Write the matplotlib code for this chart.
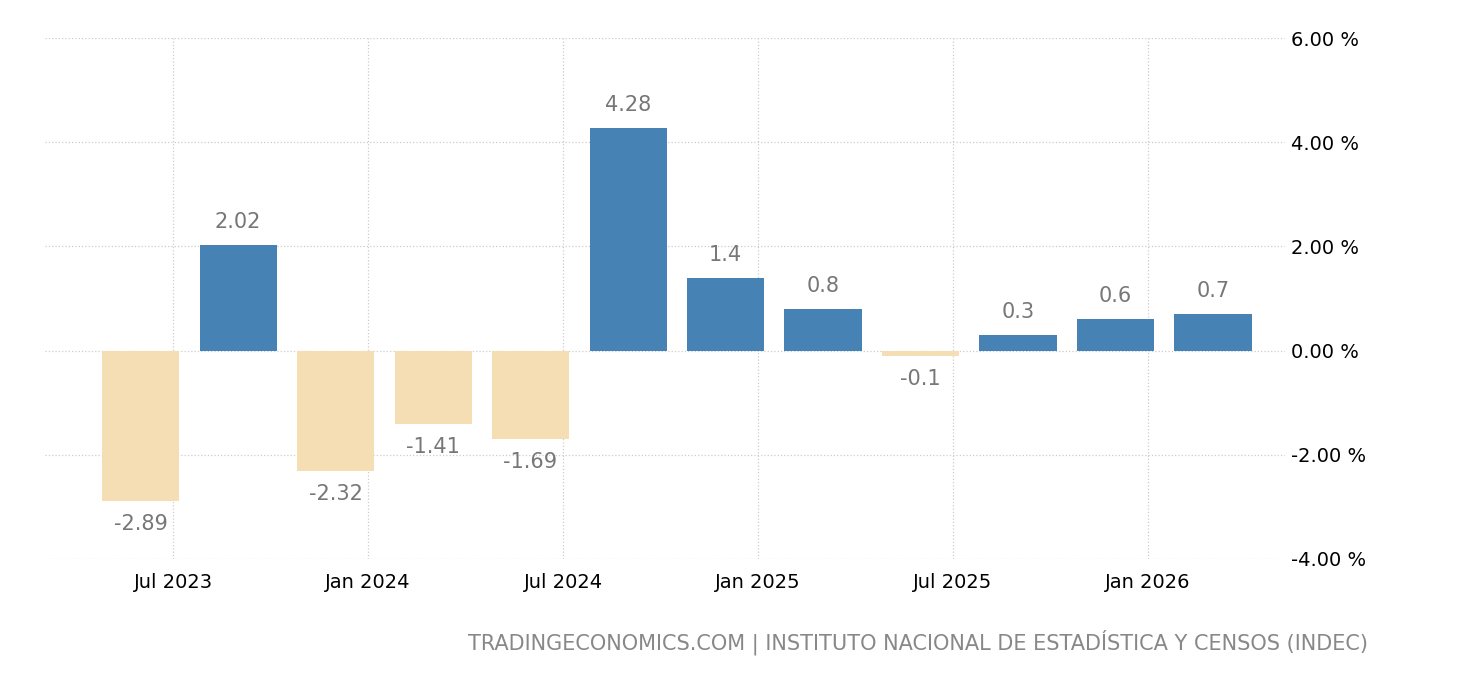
import matplotlib.pyplot as plt
import numpy as np

# quarterly GDP change, Q2 2023 .. Q1 2026
values = [-2.89, 2.02, -2.32, -1.41, -1.69, 4.28, 1.4, 0.8, -0.1, 0.3, 0.6, 0.7]
labels = ['-2.89', '2.02', '-2.32', '-1.41', '-1.69', '4.28', '1.4', '0.8', '-0.1', '0.3', '0.6', '0.7']
tick_labels = ['Jul 2023', 'Jan 2024', 'Jul 2024', 'Jan 2025', 'Jul 2025', 'Jan 2026']
y_ticks = [-4, -2, 0, 2, 4, 6]

# x in months relative to Jul 2023
x = np.arange(len(values)) * 3 - 1.0
colors = ['#4682b4' if v >= 0 else '#f5deb3' for v in values]

fig = plt.figure(figsize=(14.6, 6.8), dpi=100)
ax = fig.add_axes([0.0308, 0.178, 0.849, 0.766])

ax.bar(x, values, width=2.37, color=colors, zorder=3)
for xi, v, lab in zip(x, values, labels):
    off = 0.25 if v >= 0 else -0.25
    ax.text(xi, v + off, lab, ha='center', va='bottom' if v >= 0 else 'top',
            fontsize=15, color='#777777')

ax.set_xlim(-3.94, 34.2)
ax.set_ylim(-4, 6)
ax.set_xticks(np.arange(len(tick_labels)) * 6)
ax.set_xticklabels(tick_labels, fontsize=14)
ax.set_yticks(y_ticks)
ax.set_yticklabels([f'{t:.2f} %' for t in y_ticks], fontsize=14)
ax.yaxis.tick_right()
ax.tick_params(length=0, pad=10)
ax.tick_params(axis='y', pad=30)
for lab in ax.get_yticklabels():
    lab.set_horizontalalignment('left')
ax.tick_params(axis='y', pad=5)
ax.grid(True, color='#cccccc', linestyle=':', linewidth=0.9, zorder=0)
for s in ax.spines.values():
    s.set_visible(False)

fig.text(1368 / 1460, 1 - 642 / 680,
         'TRADINGECONOMICS.COM | INSTITUTO NACIONAL DE ESTADÍSTICA Y CENSOS (INDEC)',
         ha='right', va='center', fontsize=15, color='#888888')

fig.savefig('out.png', dpi=100)
